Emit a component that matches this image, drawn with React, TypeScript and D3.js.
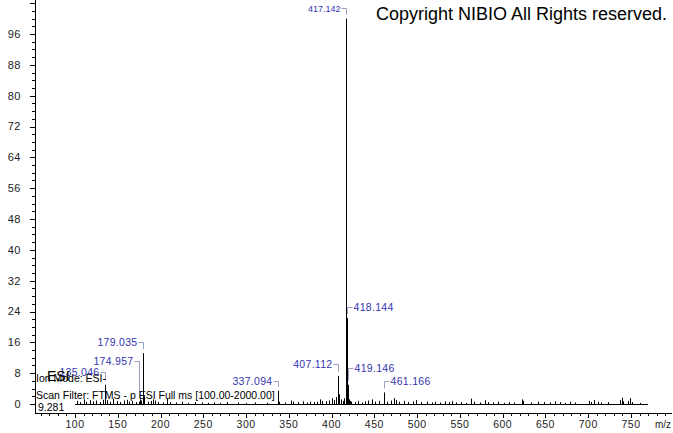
import React from "react";
import * as d3 from "d3";

// ---- data ----
const peakMz: number[] = [
  102, 106, 110, 113, 117, 121, 125, 129, 133, 135.046, 137, 141, 145, 149, 153, 157, 161, 163, 167, 171,
  174.957, 176, 177, 179.035, 180, 181, 185, 189, 191, 193, 197, 203, 208, 211, 218, 225, 232, 240, 248, 255,
  262, 270, 278, 290, 300, 310, 325, 337.094, 339, 345, 352, 355, 361, 366, 371, 375, 379, 383, 387, 389,
  393, 397, 401, 403, 405, 407.112, 408, 409, 411, 413, 415, 417.142, 418.144, 419.146, 420, 421, 423, 427, 431, 435,
  439, 443, 447, 451, 455, 461.166, 465, 469, 473, 475, 479, 485, 489, 495, 499, 505, 511, 517, 521, 527,
  533, 537, 541, 545, 551, 557, 563, 567, 573, 579, 583, 589, 595, 601, 607, 613, 622, 624, 633, 641,
  648, 655, 661, 667, 673, 679, 685, 701, 703, 707, 711, 715, 723, 737, 739, 741, 747, 749, 751, 760,
];
const peakInt: number[] = [
  0.8, 0.5, 1.2, 0.6, 1.0, 0.7, 0.9, 0.5, 1.1, 5.0, 1.0, 0.6, 1.4, 0.8, 0.5, 0.9, 1.1, 0.6, 0.8, 0.5,
  0.6, 1.2, 0.9, 13.2, 1.5, 2.0, 0.6, 0.8, 1.2, 0.9, 0.5, 0.4, 1.4, 0.5, 0.4, 0.6, 0.3, 0.5, 0.4, 0.3,
  0.4, 0.3, 0.5, 0.4, 0.3, 0.4, 0.3, 3.4, 0.6, 0.4, 0.9, 0.6, 0.5, 0.7, 0.4, 0.6, 0.5, 0.6, 1.2, 0.8,
  0.7, 0.9, 1.5, 1.0, 1.8, 7.3, 2.0, 2.5, 1.2, 0.8, 1.5, 100, 22.3, 5.0, 1.2, 0.8, 0.6, 0.5, 0.8, 0.4,
  0.7, 0.9, 1.2, 0.6, 0.8, 3.0, 0.6, 0.9, 1.5, 1.0, 0.6, 0.8, 0.5, 0.7, 1.0, 0.5, 0.6, 0.4, 0.6, 0.4,
  0.7, 0.5, 0.8, 0.4, 0.5, 0.3, 1.4, 0.6, 0.4, 1.0, 0.5, 0.4, 0.6, 0.3, 0.5, 0.4, 1.2, 0.8, 0.4, 0.6,
  0.5, 0.4, 0.7, 0.5, 0.3, 0.6, 0.4, 0.8, 0.5, 1.0, 0.6, 0.4, 0.5, 1.0, 1.6, 0.7, 0.8, 1.5, 0.5, 0.3,
];
const annotMz: number[] = [417.142, 418.144, 419.146, 461.166, 407.112, 337.094, 179.035, 174.957, 135.046];
const annotInt: number[] = [100, 22.3, 5.0, 3.0, 7.3, 3.4, 13.2, 0.6, 5.0];
const annotText: string[] = ["417.142", "418.144", "419.146", "461.166", "407.112", "337.094", "179.035", "174.957", "135.046"];
const annotSide: string[] = ["left", "right", "right", "right", "left", "left", "left", "left", "left"];
const yTickLabels: number[] = [0, 8, 16, 24, 32, 40, 48, 56, 64, 72, 80, 88, 96];
const xTickLabels: number[] = [100, 150, 200, 250, 300, 350, 400, 450, 500, 550, 600, 650, 700, 750];
const mzRange: number[] = [100, 770];
const infoLines: string[] = ["Ion Mode: ESI-", "Scan Filter: FTMS - p ESI Full ms [100.00-2000.00]", "9.281"];

// ---- layout ----
const W = 673, H = 433;
const axisX = 35, axisY = 413;
const labelLift: number[] = [11, 11, 17, 11, 12, 10, 11, 41, 13];
const FONT = "Arial, 'Liberation Sans', Helvetica, sans-serif";

export default function App() {
  const x = d3.scaleLinear().domain([100, 750]).range([75, 631]);
  const y = d3.scaleLinear().domain([0, 96]).range([404, 34]);
  const xMinor = d3.range(60, 801, 10);
  const yMinor = d3.range(0, 105, 2);
  const peaks = peakMz.map((m, i) => ({ m, v: peakInt[i] }));
  const annots = annotMz.map((m, i) => ({ m, v: annotInt[i], t: annotText[i], side: annotSide[i], lift: labelLift[i] }));

  return (
    <svg width={W} height={H} style={{ position: "absolute", left: 0, top: 0, background: "#fff" }} fontFamily={FONT}>
      <rect x={0} y={0} width={W} height={H} fill="#fff" />
      {/* axes */}
      <line x1={axisX + 0.5} x2={axisX + 0.5} y1={0} y2={axisY} stroke="#000" strokeWidth={1} />
      <line x1={axisX} x2={672} y1={axisY + 0.5} y2={axisY + 0.5} stroke="#000" strokeWidth={1} />
      {yMinor.map((t) => {
        const major = t % 8 === 0;
        const py = Math.round(y(t)) + 0.5;
        return <line key={"yt" + t} x1={axisX - (major ? 5 : 3)} x2={axisX} y1={py} y2={py} stroke="#000" strokeWidth={1} />;
      })}
      {yTickLabels.map((t) => (
        <text key={"yl" + t} x={21} y={y(t)} dy="0.35em" textAnchor="end" fontSize={11} letterSpacing={0.5} fill="#222">
          {t}
        </text>
      ))}
      {xMinor.map((t) => {
        const major = t % 50 === 0;
        const px = Math.round(x(t)) + 0.5;
        return <line key={"xt" + t} x1={px} x2={px} y1={axisY} y2={axisY + (major ? 5 : 3)} stroke="#000" strokeWidth={1} />;
      })}
      {xTickLabels.map((t) => (
        <text key={"xl" + t} x={x(t)} y={428} textAnchor="middle" fontSize={10.5} letterSpacing={0.5} fill="#222">
          {t}
        </text>
      ))}
      <text x={663} y={428} textAnchor="middle" fontSize={10} fill="#222">m/z</text>

      {/* spectrum */}
      <line x1={x(mzRange[0])} x2={x(mzRange[1])} y1={y(0) + 0.5} y2={y(0) + 0.5} stroke="#000" strokeWidth={1} />
      {peaks.map((p, i) => {
        const px = Math.round(x(p.m)) + 0.5;
        return <line key={"p" + i} x1={px} x2={px} y1={y(0) + 1} y2={y(p.v)} stroke="#000" strokeWidth={1} />;
      })}

      {/* annotations */}
      {annots.map((a, i) => {
        const px = Math.round(x(a.m)) + 0.5;
        const top = y(a.v);
        const ly = Math.round(top - a.lift) + 0.5;
        const small = a.t === "417.142";
        const dir = a.side === "left" ? -1 : 1;
        return (
          <g key={"a" + i}>
            <path d={`M${px + dir * 5},${ly} H${px} V${top - 4}`} fill="none" stroke="#9aa0c0" strokeWidth={1} />
            <text
              x={px + dir * 6}
              y={ly}
              dy="0.35em"
              textAnchor={a.side === "left" ? "end" : "start"}
              fontSize={small ? 9 : 10.5}
              letterSpacing={small ? 0 : 0.3}
              fill="#3535b0"
            >
              {a.t}
            </text>
          </g>
        );
      })}

      {/* header info */}
      <text x={47} y={381} fontSize={14} fill="#000">ESI</text>
      {infoLines.map((s, i) => (
        <text key={"info" + i} x={i === 2 ? 38 : 36} y={[382, 399, 411][i]} fontSize={10.5} fill="#000">
          {s}
        </text>
      ))}
      <text x={376} y={20} fontSize={18} fill="#000">Copyright NIBIO All Rights reserved.</text>
    </svg>
  );
}
